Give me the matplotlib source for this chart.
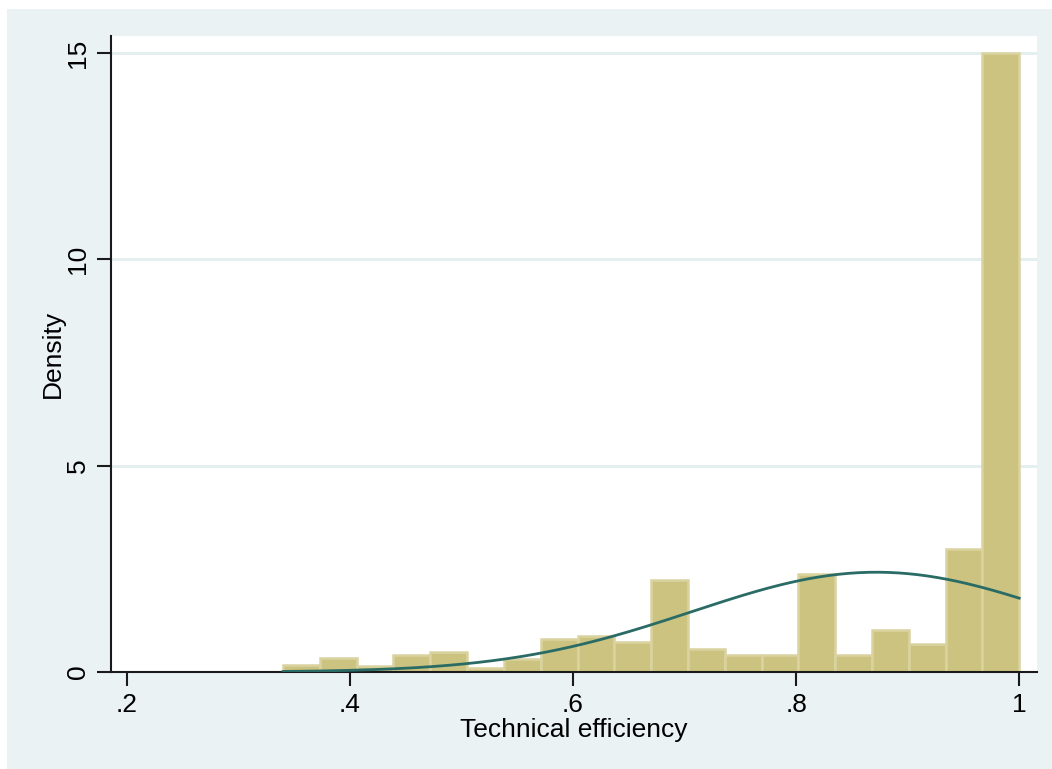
import numpy as np
import matplotlib
matplotlib.use("Agg")
import matplotlib.pyplot as plt
from matplotlib.patches import Rectangle

# histogram of technical efficiency, 20 bins from .34 to 1
bin_start = 0.34
bin_width = 0.033
density = [0.17, 0.34, 0.15, 0.41, 0.48, 0.10, 0.32, 0.80, 0.87, 0.73,
           2.23, 0.56, 0.41, 0.41, 2.37, 0.41, 1.02, 0.69, 2.97, 15.0]

# fitted normal overlay
norm_mean = 0.872
norm_sd = 0.165

xticks = [0.2, 0.4, 0.6, 0.8, 1.0]
xtick_labels = [".2", ".4", ".6", ".8", "1"]
yticks = [0, 5, 10, 15]

plt.rcParams['font.family'] = ['Liberation Sans', 'DejaVu Sans']

fig = plt.figure(figsize=(10.52, 7.69), dpi=100, facecolor="white")
# stata-ish outer panel
fig.patches.append(Rectangle((7 / 1052, 0), 1 - 7 / 1052, 1 - 9 / 769,
                             transform=fig.transFigure, facecolor="#eaf2f3",
                             edgecolor="none", zorder=-10))

ax = fig.add_axes([111 / 1052, 97 / 769, 926 / 1052, 636 / 769])
ax.set_facecolor("white")

lefts = bin_start + bin_width * np.arange(len(density))
ax.bar(lefts, density, width=bin_width, align="edge", color="#cbc37f",
       edgecolor="#dad3a0", linewidth=1.8, zorder=2)

xs = np.linspace(bin_start, 1.0, 300)
pdf = np.exp(-0.5 * ((xs - norm_mean) / norm_sd) ** 2) / (norm_sd * np.sqrt(2 * np.pi))
ax.plot(xs, pdf, color="#2a6b65", linewidth=2, zorder=3)

ax.set_xlim(0.1857, 1.016)
ax.set_ylim(0, 15.41)
ax.set_xticks(xticks)
ax.set_xticklabels(xtick_labels)
ax.set_yticks(yticks)
ax.set_yticklabels([str(t) for t in yticks], rotation=90, va="center")

for y in yticks[1:]:
    ax.axhline(y, color="#e4eeef", linewidth=2, zorder=1)

for side in ["top", "right"]:
    ax.spines[side].set_visible(False)
for side in ["left", "bottom"]:
    ax.spines[side].set_color("#1a1a1a")
    ax.spines[side].set_linewidth(1.5)

ax.tick_params(axis="both", direction="out", length=10, width=1.5,
               color="#1a1a1a", labelsize=19, pad=5)

ax.set_xlabel("Technical efficiency", fontsize=19, labelpad=1)
ax.set_ylabel("Density", fontsize=19, labelpad=1)

fig.savefig("out.png", dpi=100, facecolor=fig.get_facecolor())
